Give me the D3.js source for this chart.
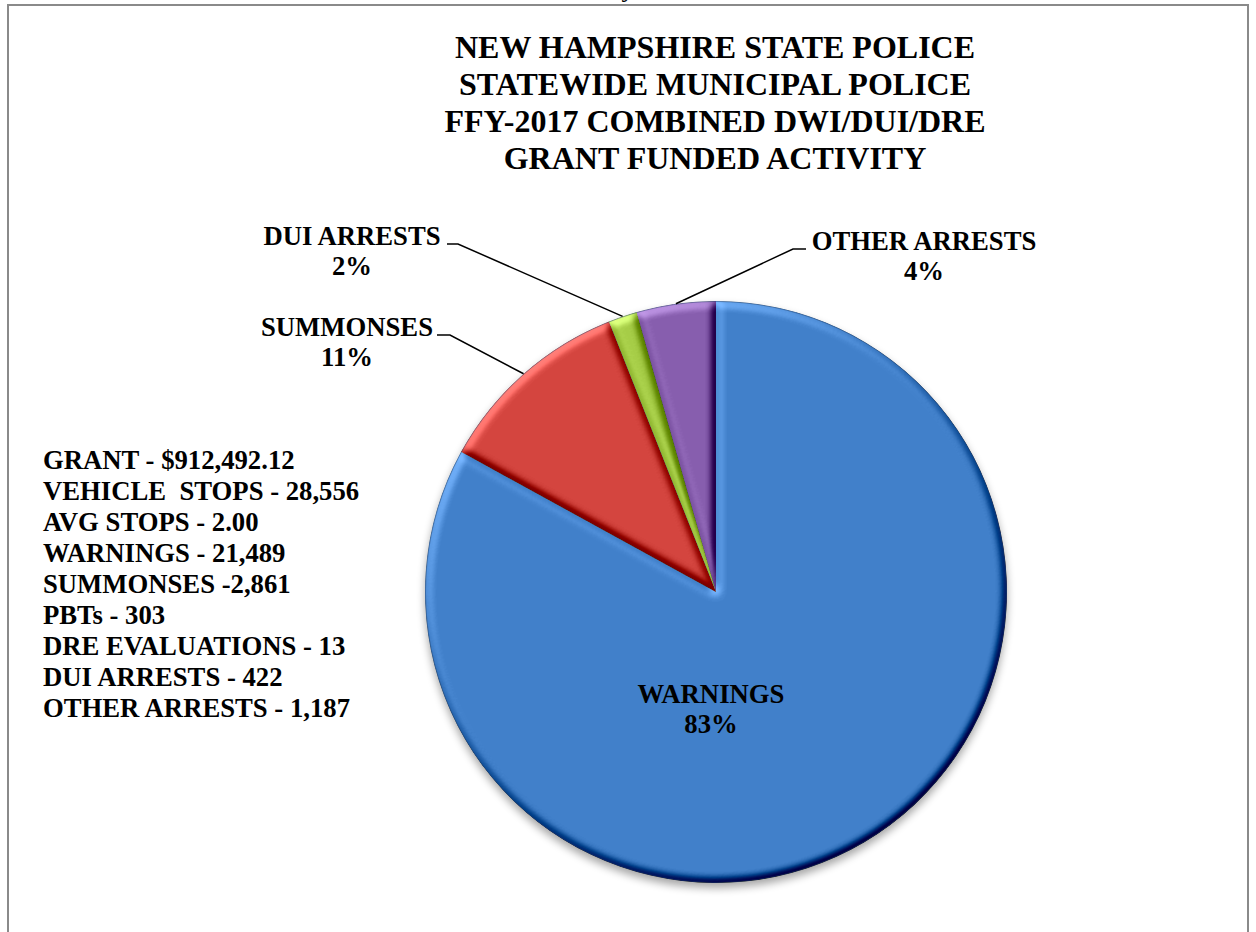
<!DOCTYPE html>
<html>
<head>
<meta charset="utf-8">
<script src="https://cdn.jsdelivr.net/npm/d3@7"></script>
<style>
  html, body { margin: 0; padding: 0; background: #fff; }
  svg { display: block; }
  text { font-family: "Liberation Serif", "Times New Roman", serif; font-weight: bold; fill: #000; }
</style>
</head>
<body>
<svg id="chart" width="1256" height="932"></svg>
<script>
// Chart data
const categories = ["WARNINGS", "SUMMONSES", "DUI ARRESTS", "OTHER ARRESTS"];
const shares = [83, 11, 1.6, 4.4];          // percent of grant-funded enforcement actions
const titleLines = [
  "NEW HAMPSHIRE STATE POLICE",
  "STATEWIDE MUNICIPAL POLICE",
  "FFY-2017 COMBINED DWI/DUI/DRE",
  "GRANT FUNDED ACTIVITY"
];
const summaryLines = [
  "GRANT - $912,492.12",
  "VEHICLE  STOPS - 28,556",
  "AVG STOPS - 2.00",
  "WARNINGS - 21,489",
  "SUMMONSES -2,861",
  "PBTs - 303",
  "DRE EVALUATIONS - 13",
  "DUI ARRESTS - 422",
  "OTHER ARRESTS - 1,187"
];

// Slice colours: [light top, dark bottom]
const sliceColors = [
  ["#4180ca", "#2c5b9a"],
  ["#d4453f", "#b53834"],
  ["#a6cd47", "#8ab238"],
  ["#875eae", "#6c4c94"]
];

const svg = d3.select("#chart");
const W = 1256, H = 932;
const cx = 716, cy = 592, R = 291;

// Chart frame (the line of text above the frame is cut by the page edge)
svg.append("text").attr("x", 628).attr("y", -3).attr("text-anchor", "middle")
  .style("font-weight", "normal").style("font-size", "26px").text("y");
svg.append("path")
  .attr("d", `M8,${H + 5} L8,5 L1248,5 L1248,${H + 5}`)
  .attr("fill", "none").attr("stroke", "#8a8a8a").attr("stroke-width", 2);

// Filters
const defs = svg.append("defs");
const shadow = defs.append("filter").attr("id", "shadow")
  .attr("x", "-20%").attr("y", "-20%").attr("width", "140%").attr("height", "140%");
shadow.append("feGaussianBlur").attr("in", "SourceAlpha").attr("stdDeviation", 4);

const bevel = defs.append("filter").attr("id", "bevel")
  .attr("x", "-5%").attr("y", "-5%").attr("width", "110%").attr("height", "110%")
  .attr("color-interpolation-filters", "sRGB");
bevel.append("feGaussianBlur").attr("in", "SourceAlpha").attr("stdDeviation", 4).attr("result", "blur");
bevel.append("feDiffuseLighting").attr("in", "blur").attr("surfaceScale", 6)
  .attr("diffuseConstant", 1).attr("lighting-color", "#fff").attr("result", "light")
  .append("feDistantLight").attr("azimuth", 235).attr("elevation", 45);
bevel.append("feComposite").attr("in", "SourceGraphic").attr("in2", "light")
  .attr("operator", "arithmetic").attr("k1", 0).attr("k2", 1).attr("k3", 0.75).attr("k4", -0.75 * 0.7071)
  .attr("result", "lit");
bevel.append("feComposite").attr("in", "lit").attr("in2", "SourceAlpha").attr("operator", "in");

sliceColors.forEach((c, i) => {
  const g = defs.append("linearGradient").attr("id", "grad" + i)
    .attr("gradientUnits", "userSpaceOnUse")
    .attr("x1", 0).attr("y1", cy - R).attr("x2", 0).attr("y2", cy + R);
  g.append("stop").attr("offset", "0%").attr("stop-color", c[0]);
  g.append("stop").attr("offset", "100%").attr("stop-color", c[1]);
});

// Pie layout
const pie = d3.pie().sort(null).value(d => d.value).startAngle(0).endAngle(2 * Math.PI);
const arcs = pie(categories.map((c, i) => ({ name: c, value: shares[i] })));
const arc = d3.arc().innerRadius(0).outerRadius(R);
const total = d3.sum(shares);
const pct = d3.format(".0%");

const g = svg.append("g").attr("transform", `translate(${cx},${cy})`);

// soft shadow beneath the pie
g.append("circle").attr("cx", 0).attr("cy", 5).attr("r", R)
  .attr("fill", "#000").attr("opacity", 0.35).attr("filter", "url(#shadow)");

g.selectAll("path.slice").data(arcs).join("path")
  .attr("class", "slice")
  .attr("d", arc)
  .attr("fill", (d, i) => `url(#grad${i})`)
  .attr("filter", "url(#bevel)");

// thin dark rim
g.append("circle").attr("r", R - 0.5).attr("fill", "none")
  .attr("stroke", "#1f3d66").attr("stroke-opacity", 0.45).attr("stroke-width", 1);

// Outside labels with leader lines (text position, leader elbow)
const outside = {
  "SUMMONSES":     { x: 347, y: 336, elbow: [450, 335], end: [437, 335] },
  "DUI ARRESTS":   { x: 352, y: 245, elbow: [458, 244], end: [447, 244] },
  "OTHER ARRESTS": { x: 924, y: 250, elbow: [793, 249], end: [806, 249] }
};

function edgePoint(d) {
  const a = (d.startAngle + d.endAngle) / 2;
  return [cx + R * Math.sin(a), cy - R * Math.cos(a)];
}

arcs.forEach(d => {
  const name = d.data.name;
  const label = pct(d.data.value / total);
  if (outside[name]) {
    const o = outside[name];
    const p = edgePoint(d);
    svg.append("path")
      .attr("d", d3.line()([p, o.elbow, o.end]))
      .attr("fill", "none").attr("stroke", "#000").attr("stroke-width", 1.5);
    const t = svg.append("text").attr("text-anchor", "middle").style("font-size", "26.7px");
    t.append("tspan").attr("x", o.x).attr("y", o.y).text(name);
    t.append("tspan").attr("x", o.x).attr("y", o.y + 30).text(label);
  } else {
    const t = svg.append("text").attr("text-anchor", "middle").style("font-size", "26.7px");
    t.append("tspan").attr("x", cx - 5).attr("y", cy + 111).text(name);
    t.append("tspan").attr("x", cx - 5).attr("y", cy + 141).text(label);
  }
});

// Title
svg.append("g").selectAll("text").data(titleLines).join("text")
  .attr("x", 715).attr("y", (d, i) => 57.5 + i * 37)
  .attr("text-anchor", "middle").style("font-size", "32px")
  .text(d => d);

// Summary block
const summary = svg.append("g");
summary.selectAll("text").data(summaryLines).join("text")
  .attr("x", 43).attr("y", (d, i) => 469 + i * 31)
  .attr("xml:space", "preserve").style("white-space", "pre")
  .style("font-size", "26.7px")
  .text(d => d);
</script>
</body>
</html>
